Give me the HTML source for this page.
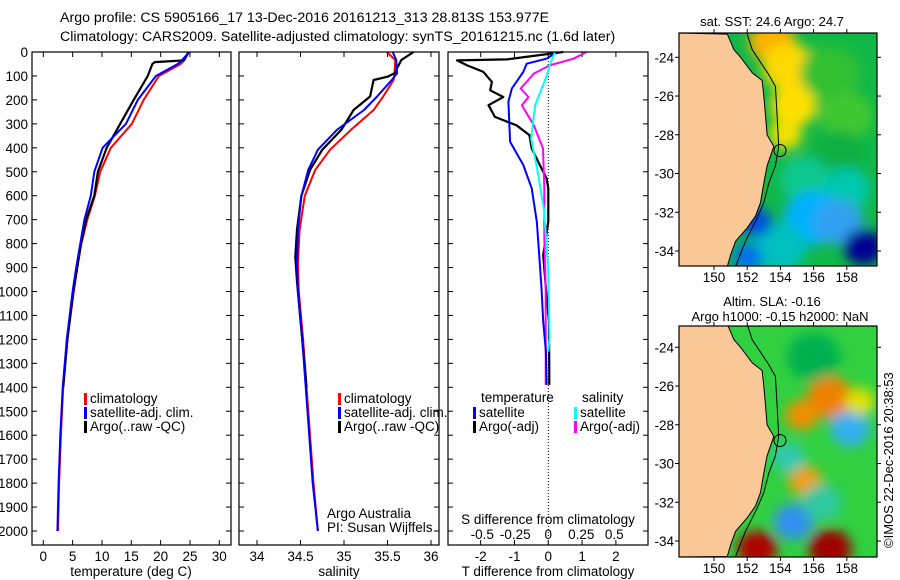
<!DOCTYPE html>
<html><head><meta charset="utf-8">
<style>
html,body{margin:0;padding:0;background:#fff;}
svg{display:block;font-family:"Liberation Sans",Arial,sans-serif;}
text{fill:#000;}
</style></head>
<body>
<svg id="fig" width="900" height="580" viewBox="0 0 900 580" xmlns="http://www.w3.org/2000/svg">
<text x="60" y="22" font-size="14.2">Argo profile: CS 5905166_17 13-Dec-2016 20161213_313 28.813S 153.977E</text>
<text x="60" y="41" font-size="14.2">Climatology: CARS2009. Satellite-adjusted climatology: synTS_20161215.nc (1.6d later)</text>
<g id="p1"></g>
<g id="p2"></g>
<g id="p3"></g>
<g id="m1"></g>
<g id="m2"></g>
<text transform="translate(893,548) rotate(-90)" font-size="13">©IMOS 22-Dec-2016 20:38:53</text>
</svg>
<script>
// ---------- data ----------
const tDepth = [0,40,50,100,200,300,400,500,600,700,800,900,1000,1200,1400,1600,1800,2000];
const tClim  = [24.7,23.8,23.4,19.7,17.1,15.1,11.5,9.7,8.8,7.5,6.5,5.8,5.2,4.1,3.4,3.0,2.7,2.5];
const tSat   = [24.9,23.4,22.9,19.2,16.1,14.1,10.1,8.7,8.1,7.0,6.3,5.6,5.0,4.0,3.3,2.9,2.6,2.4];
const tArgoDepth = [0,35,42,50,100,200,300,400,500,600,700,800,900,1000,1200,1400];
const tArgo  = [24.8,24.0,19.0,18.6,17.8,15.4,13.1,10.8,9.3,8.7,7.3,6.4,5.8,5.1,4.1,3.4];
const sDepth = [0,33,89,117,186,242,325,408,492,600,742,883,1000,1200,1500,1800,2000];
const sClim  = [35.49,35.59,35.58,35.57,35.45,35.34,35.08,34.84,34.67,34.55,34.49,34.47,34.48,34.53,34.59,34.65,34.70];
const sSat   = [35.56,35.60,35.61,35.55,35.38,35.23,34.92,34.70,34.59,34.51,34.47,34.46,34.47,34.52,34.58,34.64,34.70];
const sArgoDepth = [0,33,89,103,117,186,242,325,408,492,600,742,855,958,1200,1400];
const sArgo  = [35.80,35.66,35.58,35.50,35.34,35.30,35.11,34.97,34.75,34.61,34.51,34.46,34.44,34.46,34.52,34.57];
const dTSatDepth = [0,28,49,83,153,208,375,472,569,708,847,986,1125,1250,1390];
const dTSat = [0.25,-0.05,-0.64,-0.74,-1.08,-1.18,-1.13,-0.74,-0.49,-0.34,-0.27,-0.2,-0.15,-0.07,-0.05];
const dTArgoDepth = [0,31,35,56,83,125,160,188,222,271,306,347,403,472,528,569,708,847,986,1125,1333,1390];
const dTArgo = [0.44,-1.23,-2.7,-2.4,-1.92,-1.67,-1.72,-1.33,-1.77,-1.58,-0.94,-0.56,-0.49,-0.25,-0.05,0,0,-0.15,-0.07,0.02,0.03,0.03];
const dSSatDepth = [0,56,97,222,361,500,667,917,1194,1250];
const dSSat = [0.05,0.01,-0.01,-0.1,-0.13,-0.08,-0.03,0,0.01,0];
const dSArgoDepth = [0,28,56,90,153,188,222,306,403,569,778,986,1333,1390];
const dSArgo = [0.29,0.19,0.01,-0.11,-0.21,-0.15,-0.2,-0.11,-0.04,-0.03,-0.03,-0.02,-0.02,-0.02];
const depthTicks = [0,100,200,300,400,500,600,700,800,900,1000,1100,1200,1300,1400,1500,1600,1700,1800,1900,2000];
const tTicks = [0,5,10,15,20,25,30];
const sTicks = [34,34.5,35,35.5,36];
const dTTicks = [-2,-1,0,1,2];
const dSTicks = [-0.5,-0.25,0,0.25,0.5];
const dSTickLabels = ['-0.5','-0.25','0','0.25','0.5'];
const latTicks = [-24,-26,-28,-30,-32,-34];
const lonTicks = [150,152,154,156,158];

const NS='http://www.w3.org/2000/svg';
function el(tag, attrs, parent, txt){
  const e=document.createElementNS(NS,tag);
  for(const k in attrs) e.setAttribute(k,attrs[k]);
  if(txt!==undefined) e.textContent=txt;
  parent.appendChild(e); return e;
}
const TOP=52, BOT=545;
const yD = d => TOP + d*0.2395;

function frame(g,x0,x1,y0,y1){
  const r=el('rect',{x:x0,y:y0,width:x1-x0,height:y1-y0,fill:'none',stroke:'#000','stroke-width':1.2},g);
  
  
}
function profile(g,xf,depths,vals,color,w,name){
  let d='';
  for(let i=0;i<vals.length;i++){d+=(i?'L':'M')+xf(vals[i]).toFixed(1)+','+yD(depths[i]).toFixed(1);}
  const p=el('path',{d:d,fill:'none',stroke:color,'stroke-width':w,'stroke-linejoin':'round'},g);
  
  
}
function xticks(g,xf,ticks,ylab){
  ticks.forEach(t=>{
    const x=xf(t);
    el('line',{x1:x,x2:x,y1:TOP,y2:TOP+5,stroke:'#000'},g);
    el('line',{x1:x,x2:x,y1:BOT,y2:BOT-5,stroke:'#000'},g);
    const tx=el('text',{x:x,y:ylab,'font-size':13.5,'text-anchor':'middle'},g,String(t));
    
    
  });
}
function yticks(g,x0,x1,labels){
  depthTicks.forEach(d=>{
    const y=yD(d);
    el('line',{x1:x0,x2:x0+5,y1:y,y2:y,stroke:'#000'},g);
    el('line',{x1:x1,x2:x1-5,y1:y,y2:y,stroke:'#000'},g);
    if(labels){
      const t=el('text',{x:28,y:y+5,'font-size':13.5,'text-anchor':'end'},g,String(d));
      
      
    }
  });
}
function legend(g,x,y,items){
  items.forEach((it,i)=>{
    el('rect',{x:x,y:y+i*14-5,width:3,height:12,fill:it[1]},g);
    const t=el('text',{x:x+6,y:y+i*14+5,'font-size':13.5},g,it[0]);
    
    
  });
}

// ---- Panel 1: temperature ----
const g1=document.getElementById('p1');
const xT = t => 43.3 + t*5.867;
yticks(g1,32,231,true);
xticks(g1,xT,tTicks,561);
profile(g1,xT,tDepth,tClim,'#f00',2,'climatology-temp-line');
profile(g1,xT,tArgoDepth,tArgo,'#000',2.2,'argo-temp-line');
profile(g1,xT,tDepth,tSat,'#00f',2,'satellite-temp-line');
frame(g1,32,231,TOP,BOT);
legend(g1,84,398,[['climatology','#f00'],['satellite-adj. clim.','#00f'],['Argo(..raw -QC)','#000']]);
el('text',{x:131,y:576,'font-size':13.5,'text-anchor':'middle',},g1,'temperature (deg C)');

// ---- Panel 2: salinity ----
const g2=document.getElementById('p2');
const xS = s => 257 + (s-34)*87;
yticks(g2,239,439,false);
xticks(g2,xS,sTicks,561);
profile(g2,xS,sDepth,sClim,'#f00',2,'climatology-sal-line');
profile(g2,xS,sArgoDepth,sArgo,'#000',2.2,'argo-sal-line');
profile(g2,xS,sDepth,sSat,'#00f',2,'satellite-sal-line');
frame(g2,239,439,TOP,BOT);
legend(g2,338,398,[['climatology','#f00'],['satellite-adj. clim.','#00f'],['Argo(..raw -QC)','#000']]);
el('text',{x:327,y:518,'font-size':13.5,},g2,'Argo Australia');
el('text',{x:327,y:532,'font-size':13.5,},g2,'PI: Susan Wijffels');
el('text',{x:339,y:576,'font-size':13.5,'text-anchor':'middle',},g2,'salinity');

// ---- Panel 3: differences ----
const g3=document.getElementById('p3');
const xdT = v => 548.3 + v*33.8;
const xdS = v => 548.3 + v*132;
yticks(g3,448,648,false);
xticks(g3,xdT,dTTicks,561);
dSTicks.forEach((t,i)=>{
  const tx=el('text',{x:xdS(t),y:539,'font-size':13.5,'text-anchor':'middle'},g3,dSTickLabels[i]);
  
  
});
el('line',{x1:xdT(0),x2:xdT(0),y1:TOP,y2:BOT,stroke:'#000','stroke-dasharray':'1,2'},g3);
profile(g3,xdT,dTArgoDepth,dTArgo,'#000',2.2,'argo-temp-diff-line');
profile(g3,xdS,dSArgoDepth,dSArgo,'#f0f',2,'argo-sal-diff-line');
profile(g3,xdT,dTSatDepth,dTSat,'#00f',2,'satellite-temp-diff-line');
profile(g3,xdS,dSSatDepth,dSSat,'#0ff',2,'satellite-sal-diff-line');
frame(g3,448,648,TOP,BOT);
el('text',{x:481,y:402,'font-size':13.5,},g3,'temperature');
el('text',{x:582,y:402,'font-size':13.5,},g3,'salinity');
legend(g3,473,412,[['satellite','#00f'],['Argo(-adj)','#000']]);
legend(g3,574,412,[['satellite','#0ff'],['Argo(-adj)','#f0f']]);
el('text',{x:548,y:524,'font-size':13.5,'text-anchor':'middle',},g3,'S difference from climatology');
el('text',{x:548,y:576,'font-size':13.5,'text-anchor':'middle',},g3,'T difference from climatology');

// ---------- maps ----------
const coastLon=[150.8,151.2,151.6,152.3,152.9,153.0,153.1,153.2,153.6,153.2,153.0,152.8,152.5,152.0,151.3,151.0,150.8];
const coastLat=[-22.8,-23.6,-24.0,-24.8,-25.2,-26.0,-27.0,-28.0,-28.6,-29.6,-30.5,-31.5,-32.2,-32.8,-33.5,-34.2,-34.8];
const shelfLon=[152.0,152.3,153.3,153.7,153.8,153.9,153.7,153.3,153.0,152.6,151.9,151.3];
const shelfLat=[-22.8,-23.6,-24.9,-25.5,-27.0,-28.6,-29.6,-30.5,-31.5,-32.3,-33.5,-34.8];
const sstBlobLon=[153.5,154.5,154.8,154.3,157,158,157.5,155.5,158,156,157.5,159,154,152.5,152];
const sstBlobLat=[-23.2,-24.5,-26.5,-28,-24.8,-27,-29,-30.3,-30.8,-32.3,-32.5,-33.8,-33.8,-32.5,-34.3];
const sstBlobR=[1.4,1.6,1.4,1.0,1.8,1.6,1.6,1.5,1.4,1.8,1.5,1.2,1.6,1.0,0.9];
const sstBlobColor=['#ffb000','#ffd800','#ffe000','#f0e000','#30c030','#40c830','#10b040','#10c890','#00c8b0','#00b0ff','#30a0f0','#000090','#00c0c0','#0050e0','#0070f0'];
const slaBlobLon=[157.0,155.3,156.0,155.5,158.2,154.8,152.6,157.0,154.5,158.8,156.5];
const slaBlobLat=[-26.6,-27.5,-24.5,-30.9,-28.2,-33.0,-34.4,-34.4,-29.7,-26.8,-32.0];
const slaBlobR=[1.4,1.0,1.6,1.0,1.2,1.2,1.2,1.3,1.0,0.9,1.2];
const slaBlobColor=['#f08000','#f09000','#00b050','#f0a000','#30b0f0','#3090f0','#b00000','#a00000','#30c8b0','#e0e000','#30c8a0'];

function drawMap(id,yRef,yTop,yBot,bg,bLon,bLat,bR,bCol,title1,title2){
  const g=document.getElementById(id);
  const x0=679,x1=877;
  const xL = lon => 714 + (lon-150)*16.6;
  const yL = lat => yRef + (-24-lat)*19.37;
  const clipId=id+'clip';
  const defs=el('defs',{},g);
  const cp=el('clipPath',{id:clipId},defs);
  el('rect',{x:x0,y:yTop,width:x1-x0,height:yBot-yTop},cp);
  const f=el('filter',{id:id+'blur',x:'-50%',y:'-50%',width:'200%',height:'200%'},defs);
  el('feGaussianBlur',{stdDeviation:6},f);
  const inner=el('g',{'clip-path':'url(#'+clipId+')'},g);
  el('rect',{x:x0,y:yTop,width:x1-x0,height:yBot-yTop,fill:bg},inner);
  const bl=el('g',{filter:'url(#'+id+'blur)'},inner);
  for(let i=0;i<bLon.length;i++){
    const c=el('ellipse',{cx:xL(bLon[i]),cy:yL(bLat[i]),rx:bR[i]*16.6,ry:bR[i]*15,fill:bCol[i]},bl);
    
    
  }
  let d='M'+x0+','+yTop;
  for(let i=0;i<coastLon.length;i++) d+='L'+xL(coastLon[i]).toFixed(1)+','+yL(coastLat[i]).toFixed(1);
  d+='L'+x0+','+yBot+'Z';
  const land=el('path',{d:d,fill:'#fac896',stroke:'#000','stroke-width':1},inner);
  
  
  let s='';
  for(let i=0;i<shelfLon.length;i++) s+=(i?'L':'M')+xL(shelfLon[i]).toFixed(1)+','+yL(shelfLat[i]).toFixed(1);
  const sh=el('path',{d:s,fill:'none',stroke:'#000','stroke-width':1},inner);
  
  
  const mk=el('circle',{cx:xL(153.977),cy:yL(-28.813),r:6,fill:'none',stroke:'#000'},inner);
  
  
  el('rect',{x:x0,y:yTop,width:x1-x0,height:yBot-yTop,fill:'none',stroke:'#000','stroke-width':1.2},g);
  latTicks.forEach(t=>{
    const y=yL(t);
    el('line',{x1:x0,x2:x0-4,y1:y,y2:y,stroke:'#000'},g);
    el('line',{x1:x1,x2:x1+4,y1:y,y2:y,stroke:'#000'},g);
    const tx=el('text',{x:674,y:y+5,'font-size':13.5,'text-anchor':'end'},g,String(t));
    
    
  });
  lonTicks.forEach(t=>{
    const x=xL(t);
    el('line',{x1:x,x2:x,y1:yTop,y2:yTop-4,stroke:'#000'},g);
    el('line',{x1:x,x2:x,y1:yBot,y2:yBot+4,stroke:'#000'},g);
    const tx=el('text',{x:x,y:yBot+16,'font-size':13.5,'text-anchor':'middle'},g,String(t));
    
    
  });
  const t1=el('text',{x:772,y:title2?yTop-20:yTop-7,'font-size':13,'text-anchor':'middle'},g,title1);
  
  
  if(title2){
    const t2=el('text',{x:780,y:yTop-5,'font-size':13,'text-anchor':'middle'},g,title2);
    
    
  }
}
drawMap('m1',57.3,33,266,'#10b848',sstBlobLon,sstBlobLat,sstBlobR,sstBlobColor,'sat. SST: 24.6 Argo: 24.7');
drawMap('m2',347.3,326,557,'#30d040',slaBlobLon,slaBlobLat,slaBlobR,slaBlobColor,'Altim. SLA: -0.16','Argo h1000: -0.15 h2000: NaN');
</script>
</body></html>
